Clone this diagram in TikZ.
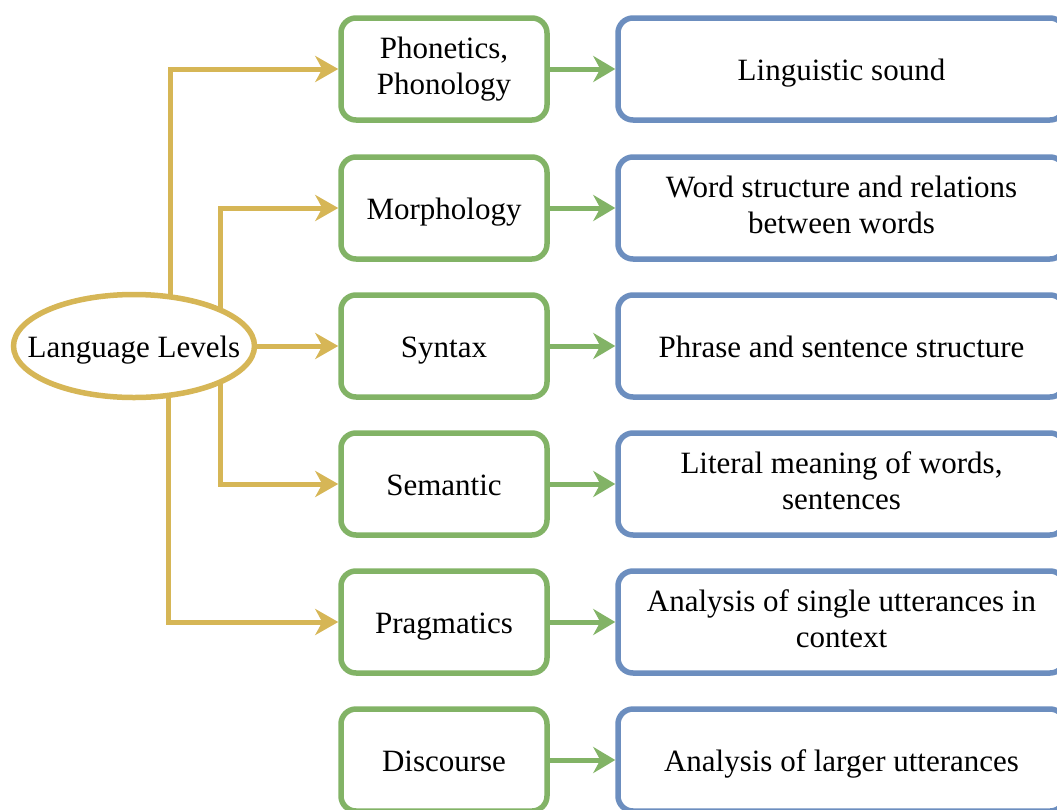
\documentclass[tikz,border=0pt]{standalone}
\usepackage{fontspec}
\setmainfont{Liberation Serif}
\usetikzlibrary{arrows.meta,shapes.geometric,backgrounds}
\definecolor{ylw}{HTML}{D6B656}
\definecolor{grn}{HTML}{82B366}
\definecolor{blu}{HTML}{6C8EBF}
\newcommand\mystrut{\rule[-6.5pt]{0pt}{36pt}}
\begin{document}
\begin{tikzpicture}[x=1pt,y=-1pt,
  txt/.style={font=\fontsize{31}{36}\selectfont, align=center, text=black,
    execute at begin node=\mystrut, execute at end node=\mystrut},
  lvl/.style={txt, draw=grn, line width=5.5pt, rounded corners=15pt, fill=white,
    minimum width=206pt, minimum height=102pt, inner sep=0pt},
  desc/.style={txt, draw=blu, line width=5.5pt, rounded corners=15pt, fill=white,
    minimum width=447pt, minimum height=102pt, inner sep=0pt},
  root/.style={txt, ellipse, draw=ylw, line width=5.5pt, fill=white,
    minimum width=241pt, minimum height=103pt, inner sep=0pt},
  yarr/.style={draw=ylw, line width=5pt, -{Stealth[length=23pt,width=26pt,inset=7pt]}},
  garr/.style={draw=grn, line width=5pt, -{Stealth[length=22pt,width=26pt,inset=7pt]}}
]
\useasboundingbox (0,0) rectangle (1057,809);

\node[root] (ell) at (134,346) {\makebox[0pt]{Language Levels}};

\node[lvl] (p1) at (444,69)  {Phonetics,\\Phonology};
\node[lvl] (p2) at (444,208) {Morphology};
\node[lvl] (p3) at (444,346) {Syntax};
\node[lvl] (p4) at (444,484) {Semantic};
\node[lvl] (p5) at (444,622) {Pragmatics};
\node[lvl] (p6) at (444,760) {Discourse};

\node[desc] (d1) at (841.5,69)  {Linguistic sound};
\node[desc] (d2) at (841.5,208) {Word structure and relations\\between words};
\node[desc] (d3) at (841.5,346) {Phrase and sentence structure};
\node[desc] (d4) at (841.5,484) {Literal meaning of words,\\sentences};
\node[desc] (d5) at (841.5,622) {Analysis of single utterances in\\context};
\node[desc] (d6) at (841.5,760) {Analysis of larger utterances};

\begin{pgfonlayer}{background}
\draw[yarr] ([xshift=36pt]ell.center) |- (p1.west);
\draw[yarr] ([xshift=86pt]ell.center) |- (p2.west);
\draw[yarr] ([xshift=86pt]ell.center) |- (p4.west);
\draw[yarr] ([xshift=34pt]ell.center) |- (p5.west);
\end{pgfonlayer}
\draw[yarr] (ell.east) -- (p3.west);

\foreach \i in {1,...,6} {
  \draw[garr] (p\i.east) -- (d\i.west);
}
\end{tikzpicture}
\end{document}
